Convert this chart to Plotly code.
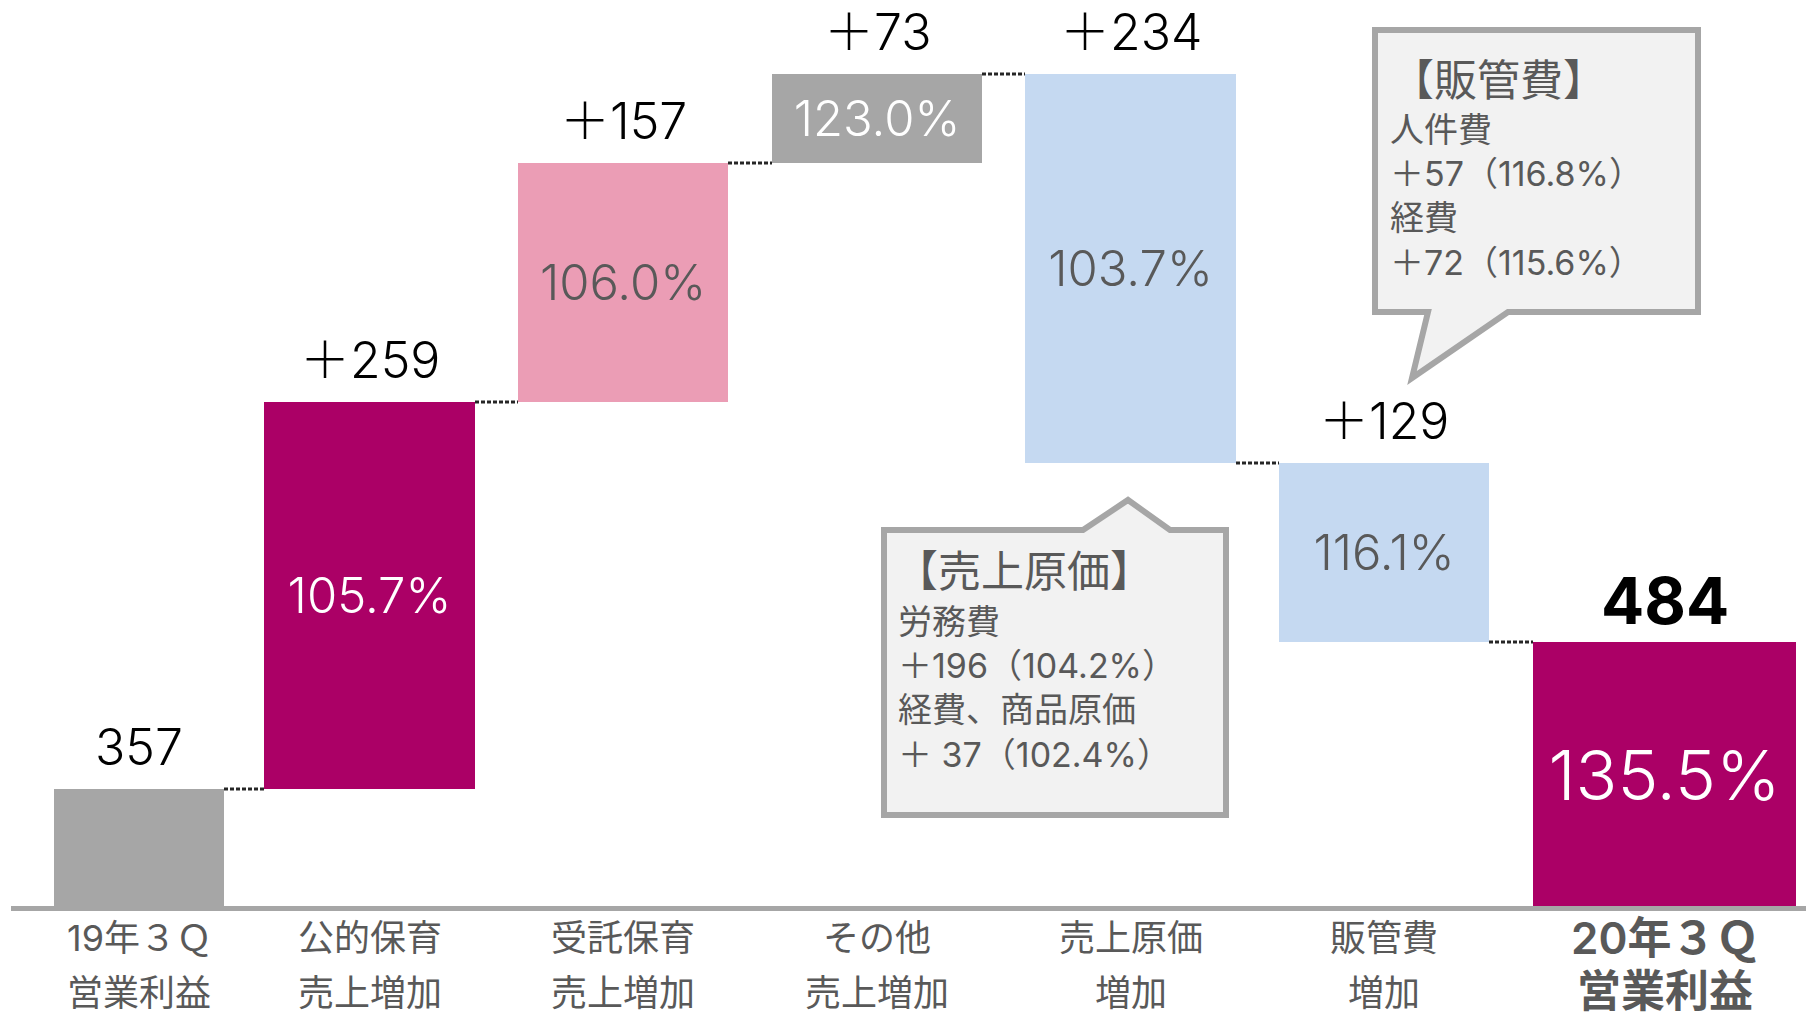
import numpy as np
import plotly.graph_objects as go

# ---------------- data ----------------
cat_line1 = ["19年３Ｑ", "公的保育", "受託保育", "その他", "売上原価", "販管費", "20年３Ｑ"]
cat_line2 = ["営業利益", "売上増加", "売上増加", "売上増加", "増加", "増加", "営業利益"]
value_labels = ["357", "＋259", "＋157", "＋73", "＋234", "＋129", "484"]
ratio_labels = ["", "105.7%", "106.0%", "123.0%", "103.7%", "116.1%", "135.5%"]
# step heights as drawn on the original slide (the slide is schematic, not to scale)
drawn_steps = [118, 387, 239, 89, -389, -179]

cogs_title = "【売上原価】"
cogs_lines = ["労務費", "＋196（104.2%）", "経費、商品原価", "＋ 37（102.4%）"]
sga_title = "【販管費】"
sga_lines = ["人件費", "＋57（116.8%）", "経費", "＋72（115.6%）"]

# ---------------- layout / style ----------------
FONT = "Inter, 'Noto Sans CJK JP'"
OFF = 8                      # page body margin of the html page
W, H = 1814 - OFF, 1014 - OFF
BASE_PX = 907                # screen row of the baseline
PLOT_H = BASE_PX - OFF
bar_centers = [139, 369.5, 623, 877, 1130.5, 1384, 1664.5]
bar_widths = [170, 211, 210, 210, 211, 210, 263]
bar_colors = ["#a6a6a6", "#ab0066", "#eb9db5", "#a6a6a6", "#c5d9f1", "#c5d9f1", "#ab0066"]
ratio_colors = ["white", "white", "#595959", "white", "#595959", "#595959", "white"]
ratio_sizes = [49, 49, 49, 49, 49, 49, 69]

levels = np.cumsum(drawn_steps).tolist()
bases = [0] + levels[:-1] + [0]
heights = list(drawn_steps) + [levels[-1]]

fig = go.Figure()
fig.add_trace(go.Bar(
    x=bar_centers, y=heights, base=bases, width=bar_widths,
    marker=dict(color=bar_colors, line=dict(width=0)),
    text=ratio_labels, textposition="inside", insidetextanchor="middle",
    constraintext="none",
    textfont=dict(family=FONT, color=ratio_colors, size=ratio_sizes, weight=300),
    hoverinfo="skip", showlegend=False,
))

# connectors
cx, cy = [], []
for i in range(len(levels)):
    x0 = bar_centers[i] + bar_widths[i] / 2
    x1 = bar_centers[i + 1] - bar_widths[i + 1] / 2
    cx += [x0, x1, None]
    cy += [levels[i], levels[i], None]
fig.add_trace(go.Scatter(x=cx, y=cy, mode="lines",
                         line=dict(color="#262626", width=3, dash="4px,2px"),
                         hoverinfo="skip", showlegend=False))

ann = []
# value labels above bars
for i, lab in enumerate(value_labels):
    top = max(bases[i], bases[i] + heights[i])
    last = i == len(value_labels) - 1
    ann.append(dict(x=bar_centers[i], y=top, xref="x", yref="y", text=lab,
                    showarrow=False, yanchor="middle", yshift=42,
                    font=dict(family=FONT, size=64 if last else 50, color="black",
                              weight=700 if last else 300)))

def py(p):            # screen row -> data y
    return BASE_PX - p

def ppy(p):           # screen row -> paper y
    return (BASE_PX - p) / PLOT_H

# category labels
for i in range(len(cat_line1)):
    last = i == len(cat_line1) - 1
    size = 44 if last else 36
    rows = (938, 991) if last else (938, 993)
    for txt, ypx in zip((cat_line1[i], cat_line2[i]), rows):
        ann.append(dict(x=bar_centers[i], y=ppy(ypx), xref="x", yref="paper",
                        text=txt, showarrow=False, yanchor="middle",
                        font=dict(family=FONT, size=size, color="#595959",
                                  weight=600 if last else 400)))

# callout shapes
def path(points):
    return "M " + " L ".join(f"{x},{py(y)}" for x, y in points) + " Z"

cogs_pts = [(884, 530), (1083, 530), (1128, 500), (1170, 530), (1226, 530), (1226, 815), (884, 815)]
sga_pts = [(1375, 30), (1698, 30), (1698, 312), (1508, 312), (1412, 378), (1428, 312), (1375, 312)]
shapes = []
for pts in (cogs_pts, sga_pts):
    shapes.append(dict(type="path", path=path(pts), xref="x", yref="y",
                       fillcolor="#f2f2f2", line=dict(color="#a6a6a6", width=6), layer="above"))
# baseline
shapes.append(dict(type="line", xref="x", yref="paper", x0=11, x1=1814,
                   y0=ppy(908.5), y1=ppy(908.5),
                   line=dict(color="#a6a6a6", width=5), layer="above"))

# callout text
def add_callout(title, lines, tx, ty, bx, by_mid):
    ann.append(dict(x=tx, y=py(ty), xref="x", yref="y", text=title, showarrow=False,
                    xanchor="left", yanchor="middle",
                    font=dict(family=FONT, size=43, color="#595959")))
    ann.append(dict(x=bx, y=py(by_mid), xref="x", yref="y", text="<br>".join(lines),
                    showarrow=False, xanchor="left", yanchor="middle", align="left",
                    font=dict(family=FONT, size=34, color="#595959")))

add_callout(cogs_title, cogs_lines, 893, 571, 896, 688)
add_callout(sga_title, sga_lines, 1389, 80, 1388, 196)

fig.update_layout(
    width=W, height=H,
    margin=dict(l=0, r=0, t=0, b=H - PLOT_H),
    paper_bgcolor="white", plot_bgcolor="white",
    xaxis=dict(range=[OFF, 1814], visible=False, fixedrange=True),
    yaxis=dict(range=[0, PLOT_H], visible=False, fixedrange=True),
    annotations=ann, shapes=shapes, showlegend=False,
    font=dict(family=FONT),
)
fig.write_html("out.html")
